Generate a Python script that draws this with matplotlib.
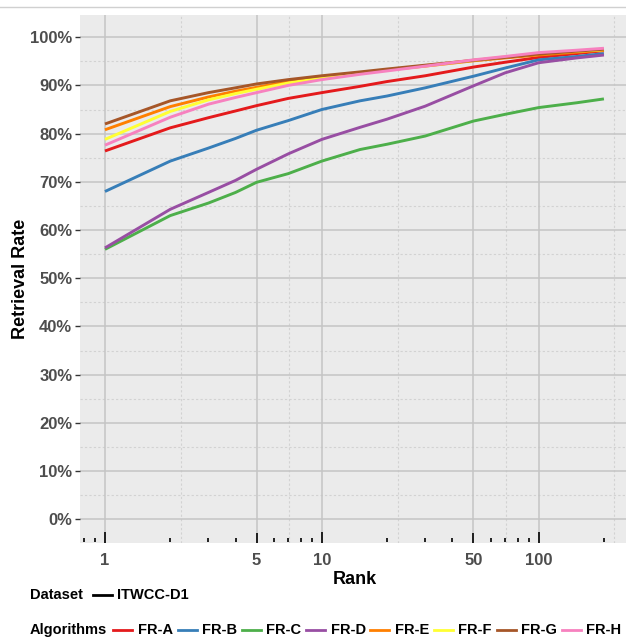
import matplotlib
matplotlib.use("Agg")
import matplotlib.pyplot as plt
from matplotlib.lines import Line2D
from matplotlib.transforms import blended_transform_factory
import numpy as np

plt.rcParams['font.family'] = ['Liberation Sans', 'DejaVu Sans']

ranks = [1, 2, 3, 4, 5, 7, 10, 15, 20, 30, 50, 70, 100, 150, 200]
fr_a = [76.4, 81.2, 83.3, 84.7, 85.8, 87.3, 88.5, 89.8, 90.8, 92.0, 93.8, 94.8, 95.8, 96.6, 97.2]
fr_b = [68.0, 74.3, 77.0, 79.0, 80.7, 82.7, 85.0, 86.8, 87.8, 89.5, 91.9, 93.6, 95.3, 96.0, 96.6]
fr_c = [56.0, 63.0, 65.6, 67.8, 69.9, 71.7, 74.3, 76.7, 77.8, 79.5, 82.6, 84.0, 85.4, 86.4, 87.2]
fr_d = [56.3, 64.3, 67.8, 70.3, 72.6, 75.8, 78.8, 81.3, 83.0, 85.7, 89.9, 92.6, 94.7, 95.7, 96.3]
fr_e = [80.8, 85.6, 87.6, 88.8, 89.6, 90.8, 91.7, 92.6, 93.2, 94.0, 95.1, 95.7, 96.3, 96.9, 97.3]
fr_f = [78.8, 84.6, 87.0, 88.3, 89.2, 90.5, 91.5, 92.5, 93.2, 94.1, 95.2, 95.9, 96.6, 97.1, 97.4]
fr_g = [82.0, 86.8, 88.5, 89.5, 90.3, 91.2, 92.0, 92.8, 93.4, 94.2, 95.2, 95.8, 96.5, 97.1, 97.5]
fr_h = [77.6, 83.4, 86.1, 87.5, 88.5, 90.0, 91.2, 92.3, 93.0, 94.0, 95.3, 96.0, 96.8, 97.3, 97.7]

algorithms = ['FR-A', 'FR-B', 'FR-C', 'FR-D', 'FR-E', 'FR-F', 'FR-G', 'FR-H']
series = [fr_a, fr_b, fr_c, fr_d, fr_e, fr_f, fr_g, fr_h]
colors = ['#E41A1C', '#377EB8', '#4DAF4A', '#984EA3', '#FF7F00', '#FFFF33', '#A65628', '#F781BF']
dataset = 'ITWCC-D1'

y_major = list(range(0, 101, 10))
x_major = [1, 5, 10, 50, 100]
x_labels = ['1', '5', '10', '50', '100']

W, H = 626, 642
fig = plt.figure(figsize=(W / 100, H / 100), dpi=100)
fig.patch.set_facecolor('white')
ax = fig.add_axes([80 / W, (H - 543) / H, (629 - 80) / W, (543 - 15) / H])
ax.set_facecolor('#EBEBEB')
for s in ax.spines.values():
    s.set_visible(False)

ax.set_xscale('log')
ax.set_xlim(0.767, 261)
ax.set_ylim(-4.9, 104.6)

# grid
for v in y_major:
    ax.axhline(v, color='#C4C4C4', lw=1.1, zorder=0.5)
for v in range(5, 101, 10):
    ax.axhline(v, color='#D2D2D2', lw=0.8, ls=(0, (2, 2)), zorder=0.4)
for v in x_major:
    ax.axvline(v, color='#C4C4C4', lw=1.1, zorder=0.5)
for v in [np.sqrt(5), np.sqrt(50), np.sqrt(500), np.sqrt(5000), np.sqrt(50000)]:
    ax.axvline(v, color='#D2D2D2', lw=0.8, ls=(0, (2, 2)), zorder=0.4)

for vals, c, name in zip(series, colors, algorithms):
    ax.plot(ranks, vals, color=c, lw=2.1, zorder=3, solid_capstyle='butt')

# log ticks inside bottom of panel
tr = blended_transform_factory(ax.transData, ax.transAxes)
long_t = [1, 10, 100]
mid_t = [5, 50]
short_t = [0.8, 0.9, 2, 3, 4, 6, 7, 8, 9, 20, 30, 40, 60, 70, 80, 90, 200]
ax.vlines(long_t, 0, 0.020, transform=tr, color='black', lw=1.2, zorder=4)
ax.vlines(mid_t, 0, 0.018, transform=tr, color='black', lw=1.2, zorder=4)
ax.vlines(short_t, 0.002, 0.010, transform=tr, color='black', lw=1.2, zorder=4)

ax.set_yticks(y_major)
ax.set_yticklabels([f'{v}%' for v in y_major])
ax.set_xticks(x_major)
ax.set_xticklabels(x_labels)
ax.xaxis.set_minor_locator(matplotlib.ticker.NullLocator())
ax.tick_params(axis='y', length=3.5, width=1, color='#333333', pad=2,
               labelsize=12, labelcolor='#4D4D4D')
ax.tick_params(axis='x', length=0, pad=7, labelsize=12, labelcolor='#4D4D4D')
for lab in ax.get_xticklabels() + ax.get_yticklabels():
    lab.set_fontweight('bold')

ax.set_xlabel('Rank', fontsize=13, fontweight='bold', labelpad=2)
ax.set_ylabel('Retrieval Rate', fontsize=13, fontweight='bold', labelpad=1)

# top border line
fig.add_artist(Line2D([0, 1], [1 - 7 / H, 1 - 7 / H], color='#D0D0D0', lw=1.0,
                      transform=fig.transFigure))

# manual legends
fig.canvas.draw()
renderer = fig.canvas.get_renderer()


def legend_row(y_px, title, labels, cols, fs=10.5, key_len=19, gap=4.6, title_gap=6):
    y = 1 - y_px / H
    x = 30
    t = fig.text(x / W, y, title, fontsize=fs, fontweight='bold', va='center', ha='left')
    bb = t.get_window_extent(renderer)
    x = bb.x1 + title_gap
    for lab, c in zip(labels, cols):
        fig.add_artist(Line2D([x / W, (x + key_len) / W], [y, y], color=c, lw=2.0,
                              transform=fig.transFigure))
        x += key_len + gap + 1
        tt = fig.text(x / W, y, lab, fontsize=fs, fontweight='bold', va='center', ha='left')
        bb = tt.get_window_extent(renderer)
        x = bb.x1 + gap


legend_row(595, 'Dataset', [dataset], ['black'], title_gap=10)
legend_row(630, 'Algorithms', algorithms, colors)

fig.savefig('out.png', dpi=100, facecolor='white')
